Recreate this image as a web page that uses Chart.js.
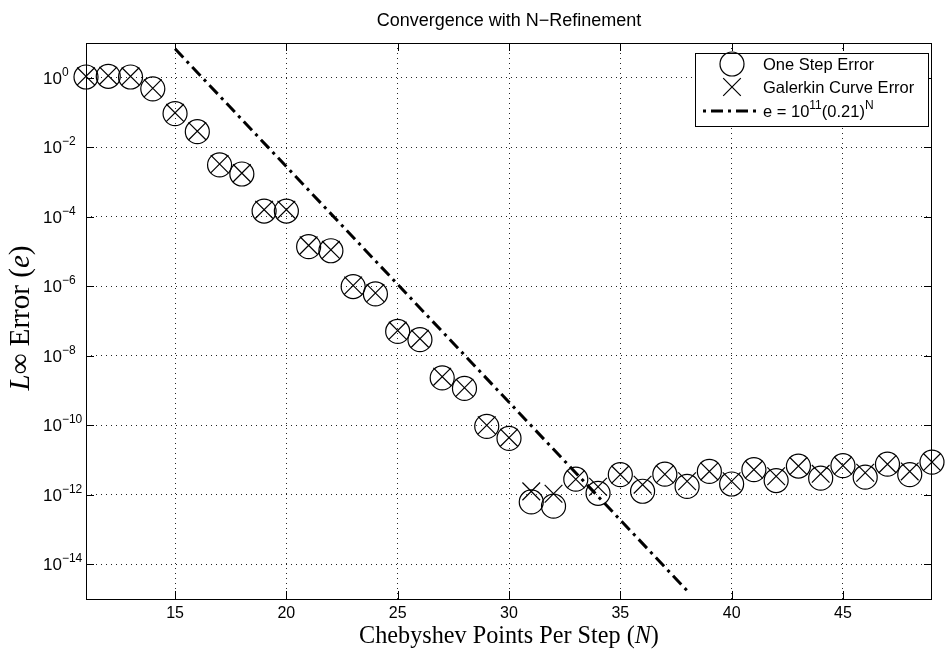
<!DOCTYPE html>
<html><head><meta charset="utf-8">
<script src="https://cdn.jsdelivr.net/npm/chart.js@4/dist/chart.umd.min.js"></script>
<style>html,body{margin:0;padding:0;background:#fff}canvas{display:block}</style>
</head><body>
<canvas id="c" width="947" height="655"></canvas>
<script>
// ---- data ----
const N = [11,12,13,14,15,16,17,18,19,20,21,22,23,24,25,26,27,28,29,30,31,32,33,34,35,36,37,38,39,40,41,42,43,44,45,46,47,48,49];
const oneStepError = [1.05,1.1,1.05,0.48,0.093,0.028,0.0031,0.0017,1.46e-4,1.46e-4,1.38e-5,1.05e-5,9.8e-7,6.0e-7,5.0e-8,2.9e-8,2.3e-9,1.15e-9,9.3e-11,4.2e-11,6.2e-13,4.7e-13,2.8e-12,1.1e-12,3.8e-12,1.26e-12,3.9e-12,1.74e-12,4.7e-12,2.04e-12,5.3e-12,2.56e-12,6.7e-12,3.0e-12,6.9e-12,3.2e-12,7.6e-12,3.8e-12,8.7e-12];
const galerkinCurveError = [1.1,1.15,1.1,0.5,0.098,0.029,0.0033,0.0018,1.6e-4,1.6e-4,1.5e-5,1.12e-5,1.05e-6,6.4e-7,5.3e-8,3.1e-8,2.5e-9,1.2e-9,1.0e-10,4.4e-11,1.25e-12,1.07e-12,2.8e-12,1.7e-12,3.8e-12,1.95e-12,3.9e-12,2.45e-12,4.7e-12,2.45e-12,5.3e-12,3.4e-12,6.7e-12,4.0e-12,6.9e-12,4.3e-12,7.6e-12,4.7e-12,8.7e-12];
const fitN = [15, 38];
const fitError = [6.8, 1.74e-15];
const xTicks = [15,20,25,30,35,40,45];
const yTickExponents = [0,-2,-4,-6,-8,-10,-12,-14];
const titleText = 'Convergence with N\u2212Refinement';
const seriesLabels = ['One Step Error', 'Galerkin Curve Error'];
const fitLabelParts = ['e = 10', '11', '(0.21)', 'N'];
const xLabelParts = [['Chebyshev Points Per Step (', false], ['N', true], [')', false]];
const yLabelParts = [['L', true], ['\u221E Error (', false], ['e', true], [')', false]];

const SANS = '"Liberation Sans", Arial, Helvetica, sans-serif';
const SERIF = '"Liberation Serif", "DejaVu Serif", serif';
const FIT_DASH = [12, 5, 3, 5];

function pts(xs, ys) { return xs.map((x, i) => ({ x: x, y: ys[i] })); }

const decor = {
  id: 'decor',
  afterDraw(chart) {
    const ctx = chart.ctx;
    const a = chart.chartArea;
    const xs = chart.scales.x, ys = chart.scales.y;
    ctx.save();
    // plot box
    ctx.strokeStyle = '#000';
    ctx.lineWidth = 1;
    ctx.setLineDash([]);
    ctx.strokeRect(a.left + 0.5, a.top + 0.5, a.right - a.left - 1, a.bottom - a.top);
    // inward ticks
    ctx.beginPath();
    xTicks.forEach(v => {
      const px = Math.round(xs.getPixelForValue(v)) + 0.5;
      ctx.moveTo(px, a.bottom); ctx.lineTo(px, a.bottom - 8);
      ctx.moveTo(px, a.top); ctx.lineTo(px, a.top + 8);
    });
    yTickExponents.forEach(e => {
      const py = Math.round(ys.getPixelForValue(Math.pow(10, e))) + 0.5;
      ctx.moveTo(a.left, py); ctx.lineTo(a.left + 8, py);
      ctx.moveTo(a.right, py); ctx.lineTo(a.right - 8, py);
    });
    ctx.stroke();
    // x tick labels
    ctx.fillStyle = '#000';
    ctx.font = '16px ' + SANS;
    ctx.textAlign = 'center';
    ctx.textBaseline = 'alphabetic';
    xTicks.forEach(v => {
      ctx.fillText(String(v), xs.getPixelForValue(v), 618);
    });
    // y tick labels 10^e
    ctx.textAlign = 'left';
    yTickExponents.forEach(e => {
      const py = ys.getPixelForValue(Math.pow(10, e));
      ctx.font = '17px ' + SANS;
      const base = py + 6;
      ctx.fillText('10', 43, base);
      const w = ctx.measureText('10').width;
      ctx.font = '12px ' + SANS;
      ctx.fillText(String(e).replace('-', '\u2212'), 43 + w, base - 8);
    });
    // title
    ctx.font = '18px ' + SANS;
    ctx.textAlign = 'center';
    ctx.fillText(titleText, (a.left + a.right) / 2, 26);
    // x axis label (serif, mixed italic) fitted to reference width
    function drawParts(parts, size, cx, cy, targetW) {
      const fontFor = (it, s) => (it ? 'italic ' : '') + s + 'px ' + SERIF;
      let w = 0;
      parts.forEach(p => { ctx.font = fontFor(p[1], size); w += ctx.measureText(p[0]).width; });
      const s2 = size * targetW / w;
      let tw = 0;
      parts.forEach(p => { ctx.font = fontFor(p[1], s2); tw += ctx.measureText(p[0]).width; });
      let x = cx - tw / 2;
      ctx.textAlign = 'left';
      ctx.textBaseline = 'middle';
      parts.forEach(p => { ctx.font = fontFor(p[1], s2); ctx.fillText(p[0], x, cy); x += ctx.measureText(p[0]).width; });
    }
    drawParts(xLabelParts, 18, (a.left + a.right) / 2, 637, 300);
    ctx.save();
    ctx.translate(21, (a.top + a.bottom) / 2 - 3);
    ctx.rotate(-Math.PI / 2);
    drawParts(yLabelParts, 18, 0, 0, 145);
    ctx.restore();

    // legend
    const L = 695, T = 53, R = 928, B = 126;
    ctx.fillStyle = '#fff';
    ctx.fillRect(L, T, R - L, B - T);
    ctx.strokeStyle = '#000';
    ctx.lineWidth = 1;
    ctx.setLineDash([]);
    ctx.strokeRect(L + 0.5, T + 0.5, R - L, B - T);
    const mx = 732, rows = [64, 87, 111], tx = 763;
    // circle
    ctx.lineWidth = 1.2;
    ctx.beginPath(); ctx.arc(mx, rows[0], 12, 0, Math.PI * 2); ctx.stroke();
    // cross
    const h = 8.8;
    ctx.beginPath();
    ctx.moveTo(mx - h, rows[1] - h); ctx.lineTo(mx + h, rows[1] + h);
    ctx.moveTo(mx - h, rows[1] + h); ctx.lineTo(mx + h, rows[1] - h);
    ctx.stroke();
    // dash-dot sample
    ctx.lineWidth = 3;
    ctx.setLineDash(FIT_DASH);
    ctx.lineDashOffset = FIT_DASH[0] + FIT_DASH[1];
    ctx.beginPath(); ctx.moveTo(703, rows[2]); ctx.lineTo(756, rows[2]); ctx.stroke();
    ctx.setLineDash([]);
    ctx.fillStyle = '#000';
    ctx.textAlign = 'left';
    ctx.textBaseline = 'alphabetic';
    ctx.font = '16.5px ' + SANS;
    ctx.fillText(seriesLabels[0], tx, rows[0] + 6);
    ctx.fillText(seriesLabels[1], tx, rows[1] + 6);
    let x = tx;
    const b = rows[2] + 6;
    fitLabelParts.forEach((p, i) => {
      const sup = i % 2 === 1;
      ctx.font = (sup ? '12px ' : '16.5px ') + SANS;
      ctx.fillText(p, x, sup ? b - 8 : b);
      x += ctx.measureText(p).width;
    });
    ctx.restore();
  }
};

new Chart(document.getElementById('c'), {
  type: 'scatter',
  data: {
    datasets: [
      { label: fitLabelParts.join(''), data: pts(fitN, fitError), showLine: true, borderColor: '#000', borderWidth: 3,
        borderDash: FIT_DASH, pointRadius: 0, fill: false, order: 0 },
      { label: seriesLabels[1], data: pts(N, galerkinCurveError), pointStyle: 'crossRot', pointRadius: 12.5,
        borderColor: '#000', backgroundColor: 'rgba(0,0,0,0)', pointBorderWidth: 1.2, clip: false, order: 1 },
      { label: seriesLabels[0], data: pts(N, oneStepError), pointStyle: 'circle', pointRadius: 12,
        borderColor: '#000', backgroundColor: 'rgba(0,0,0,0)', pointBorderWidth: 1.2, clip: false, order: 2 }
    ]
  },
  options: {
    responsive: false,
    animation: false,
    devicePixelRatio: 1,
    layout: { padding: { top: 43, right: 15, left: 0, bottom: 0 } },
    plugins: { legend: { display: false }, tooltip: { enabled: false } },
    events: [],
    scales: {
      x: {
        type: 'linear', min: 11, max: 49,
        afterBuildTicks: s => { s.ticks = xTicks.map(v => ({ value: v })); },
        afterFit: s => { s.height = 56; },
        ticks: { display: false },
        grid: { color: 'rgba(0,0,0,0.85)', lineWidth: 1, drawTicks: false },
        border: { display: false, dash: [1, 4] }
      },
      y: {
        type: 'logarithmic', min: 1e-15, max: 10,
        afterBuildTicks: s => { s.ticks = yTickExponents.map(e => ({ value: Math.pow(10, e) })); },
        afterFit: s => { s.width = 86; },
        ticks: { display: false },
        grid: { color: 'rgba(0,0,0,0.85)', lineWidth: 1, drawTicks: false },
        border: { display: false, dash: [1, 4] }
      }
    }
  },
  plugins: [decor]
});
</script>
</body></html>
